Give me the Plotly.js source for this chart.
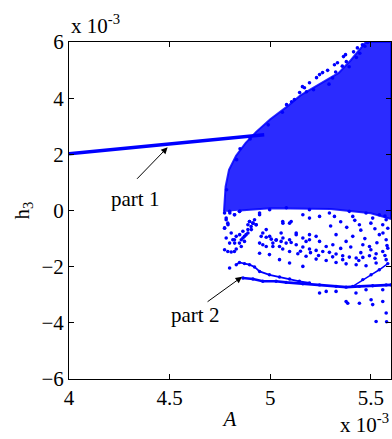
<!DOCTYPE html>
<html>
<head>
<meta charset="utf-8">
<script src="https://cdn.plot.ly/plotly-3.0.1.min.js"></script>
<style>html,body{margin:0;padding:0;background:#fff;}#chart{width:392px;height:439px;}</style>
</head>
<body>
<div id="chart"></div>
<script>
// Values in units of 1e-3 (A on x, h3 on y)
var part1X = [4.00, 4.50, 4.97];
var part1Y = [2.02, 2.37, 2.70];

// envelope of the dense chaotic band
var cloudX = [4.770, 4.778, 4.795, 4.830, 4.878, 4.930, 5.000, 5.080, 5.150, 5.250, 5.340, 5.400, 5.443, 5.475, 5.600, 5.600, 5.500, 5.300, 5.000, 4.850];
var cloudY = [-0.05, 0.85, 1.45, 1.95, 2.41, 2.80, 3.25, 3.68, 4.10, 4.52, 4.90, 5.35, 5.72, 6.00, 6.00, -0.30, -0.10, 0.05, 0.08, 0.00];

// outlying points along the upper edge of the band
var edgeX = [5.374, 5.364, 5.414, 5.433, 5.458, 5.483, 5.285, 5.260, 5.245, 5.230, 5.195, 5.170, 5.180, 5.146, 5.160, 5.319, 5.334, 5.106, 5.081, 4.833, 4.783,
  5.292, 5.310, 5.325, 5.358, 5.378, 5.392, 5.428, 5.445, 5.470, 5.215, 5.120, 5.060, 4.990, 4.900, 4.850];
var edgeY = [5.55, 5.48, 5.65, 5.79, 5.90, 5.98, 4.99, 4.91, 4.84, 4.73, 4.55, 4.37, 4.23, 4.20, 4.41, 5.19, 5.26, 3.87, 3.77, 1.81, 0.74,
  4.50, 4.72, 4.93, 5.14, 5.30, 5.12, 5.45, 5.60, 5.85, 4.30, 3.95, 3.50, 3.05, 2.55, 2.20];

// sparse points below the band
var sparseX = [4.773, 4.798, 4.822, 4.847, 4.781, 4.789, 4.773, 4.806, 4.781, 4.822, 4.798, 4.773, 4.789, 4.806, 4.822, 4.831,
  4.847, 4.864, 4.880, 4.889, 4.905, 4.914, 4.922, 4.897, 4.930, 4.872, 4.856,
  4.947, 5.062, 5.096, 5.162, 5.195, 5.245, 5.294, 5.319, 5.393, 5.410, 5.443, 5.476, 5.509, 5.542, 5.576, 5.559, 5.584,
  5.327, 5.377, 5.410, 5.460, 5.542, 5.576, 5.245, 5.195, 5.129, 5.054, 4.980,
  4.955, 4.980, 5.005, 5.029, 5.054, 5.079, 5.104, 5.129, 5.162, 5.195, 5.228, 5.261, 5.294, 5.327, 5.360, 5.393, 5.427, 5.460, 5.493, 5.526, 5.559, 5.584,
  4.963, 5.013, 5.062, 5.096, 5.137, 5.178, 5.228, 5.278, 5.327, 5.377, 5.427, 5.476, 5.526, 5.576,
  5.046, 5.096, 5.162, 4.996, 4.947, 5.311, 5.178, 5.278, 5.493,
  5.377, 5.385, 5.443, 5.501, 5.509, 5.559, 5.576, 5.526, 5.278, 5.245, 5.327, 5.476, 5.426, 5.559, 4.798, 5.578,
  4.799, 4.823, 4.781, 4.790, 4.773, 4.848, 4.947, 4.897, 4.914, 4.889, 4.930, 4.906, 4.864, 4.848, 4.831, 4.814, 4.823, 4.856, 4.872, 4.889,
  4.963, 4.997, 5.030, 5.063, 5.096, 5.129, 5.162, 5.195, 5.228, 5.063, 5.104, 4.947, 4.980, 5.013, 5.046, 4.997, 5.080, 5.195,
  5.35, 5.42, 5.50, 5.57, 5.45, 5.52, 5.38, 5.30, 5.56, 5.47, 5.53, 5.58, 5.40, 5.35, 5.50, 5.45, 5.57, 5.31, 5.36, 5.44, 5.52, 5.20, 5.15, 5.24];
var sparseY = [-0.09, -0.03, -0.15, -0.03, -0.27, -0.45, -0.63, -0.80, -0.98, -1.04, -1.16, -1.40, -1.46, -1.48, -1.46, -1.37,
  -1.16, -0.98, -0.86, -0.68, -0.57, -0.45, -0.33, -0.39, -0.51, -1.10, -1.28,
  -0.09, -0.39, -0.45, -0.15, -0.27, -0.21, -0.09, -0.21, -0.03, -0.21, -0.51, -0.09, -0.27, -0.15, -0.33, -0.51, -0.63,
  -0.86, -1.10, -0.92, -1.22, -0.86, -1.04, -1.10, -0.86, -0.80, -0.80, -0.68,
  -0.92, -0.95, -1.02, -1.06, -1.10, -1.16, -1.14, -1.22, -1.30, -1.37, -1.42, -1.46, -1.49, -1.55, -1.61, -1.66, -1.69, -1.67, -1.61, -1.54, -1.46, -1.34,
  -1.22, -1.28, -1.37, -1.46, -1.54, -1.63, -1.73, -1.78, -1.85, -1.90, -1.93, -1.97, -1.87, -1.75,
  -1.75, -1.87, -1.99, -1.57, -1.52, -1.22, -1.10, -1.28, -1.28,
  -3.24, -3.30, -3.30, -3.18, -3.35, -3.24, -3.65, -3.95, -2.88, -2.94, -2.88, -2.82, -2.94, -2.82, -2.05, -3.96,
  -0.09, -0.15, -0.33, -0.51, -0.62, -0.03, -0.15, -0.39, -0.45, -0.51, -0.51, -0.68, -0.74, -0.86, -0.92, -1.04, -1.16, -1.04, -0.92, -0.80,
  -0.80, -0.92, -1.04, -0.98, -1.04, -0.86, -0.98, -1.04, -0.92, -0.45, -0.39, -1.16, -1.28, -1.16, -1.28, 0.03, 0.10, 0.03,
  -0.40, -0.35, -0.45, -0.20, -0.70, -0.65, -0.60, -0.55, -0.80, -1.00, -1.15, -1.25, -1.30, -1.35, -1.40, -1.50, -1.60, -1.65, -1.75, -1.78, -1.70, -1.50, -1.45, -1.60];

// "part 2" branches
var lowX = [4.864, 4.914, 4.963, 5.029, 5.079, 5.162, 5.245, 5.327, 5.377, 5.443, 5.509, 5.576, 5.60];
var lowY = [-2.405, -2.44, -2.52, -2.52, -2.56, -2.61, -2.65, -2.70, -2.73, -2.70, -2.68, -2.65, -2.65];
var upX = [4.831, 4.847, 4.872, 4.897, 4.922, 4.947, 4.996, 5.046, 5.096, 5.145, 5.195];
var upY = [-1.93, -1.85, -1.89, -1.93, -2.01, -2.17, -2.29, -2.37, -2.44, -2.52, -2.58];
var riseX = [5.410, 5.460, 5.501, 5.542, 5.584];
var riseY = [-2.70, -2.46, -2.29, -2.11, -1.89];

var xTicks = [4, 4.5, 5, 5.5];
var xTickText = ['4', '4.5', '5', '5.5'];
var yTicks = [-6, -4, -2, 0, 2, 4, 6];

var blue = 'rgb(0,0,255)';
var FONT = 'Liberation Serif, Times New Roman, serif';
var FS = 21;

var traces = [
  {x: cloudX, y: cloudY, mode: 'lines', fill: 'toself', fillcolor: 'rgba(0,0,255,0.83)', line: {color: 'rgba(0,0,255,0.83)', width: 2}, hoverinfo: 'skip'},
  {x: part1X, y: part1Y, mode: 'lines', line: {color: blue, width: 3.5}},
  {x: edgeX, y: edgeY, mode: 'markers', marker: {color: blue, size: 3.6}},
  {x: sparseX, y: sparseY, mode: 'markers', marker: {color: blue, size: 3.6}},
  {x: lowX, y: lowY, mode: 'lines+markers', line: {color: blue, width: 2.6}, marker: {color: blue, size: 3.4}},
  {x: upX, y: upY, mode: 'lines+markers', line: {color: blue, width: 1.8}, marker: {color: blue, size: 3.4}},
  {x: riseX, y: riseY, mode: 'lines+markers', line: {color: blue, width: 1.5}, marker: {color: blue, size: 3.4}}
];

var layout = {
  width: 392, height: 439,
  margin: {l: 69, r: 1, t: 42, b: 60},
  showlegend: false,
  paper_bgcolor: '#fff', plot_bgcolor: '#fff',
  font: {family: FONT, size: FS, color: '#000'},
  xaxis: {
    range: [4, 5.6], tickvals: xTicks, ticktext: xTickText,
    ticks: 'inside', ticklen: 5, tickcolor: '#000', showline: true, linecolor: '#000', linewidth: 1,
    mirror: 'ticks', showgrid: false, zeroline: false,
    tickfont: {family: FONT, size: FS},
    title: {text: '<i>A</i>', font: {family: FONT, size: FS}, standoff: 2}
  },
  yaxis: {
    range: [-6, 6], tickvals: yTicks,
    ticks: 'inside', ticklen: 5, tickcolor: '#000', showline: true, linecolor: '#000', linewidth: 1,
    mirror: 'ticks', showgrid: false, zeroline: false,
    tickfont: {family: FONT, size: FS},
    title: {text: 'h<sub>3</sub>', font: {family: FONT, size: FS}, standoff: 6}
  },
  annotations: [
    {xref: 'paper', yref: 'paper', x: 0, y: 1, xanchor: 'left', yanchor: 'bottom', yshift: 2, showarrow: false,
     text: 'x 10<sup>-3</sup>', font: {family: FONT, size: FS}},
    {xref: 'paper', yref: 'paper', x: 1, y: 0, xanchor: 'right', yanchor: 'bottom', yshift: -60, showarrow: false,
     text: 'x 10<sup>-3</sup>', font: {family: FONT, size: FS}},
    {x: 4.49, y: 2.25, ax: -32, ay: 33, text: '', showarrow: true, arrowhead: 2, arrowsize: 1.3, arrowwidth: 1, arrowcolor: '#000'},
    {x: 4.86, y: -2.36, ax: -36, ay: 26, text: '', showarrow: true, arrowhead: 2, arrowsize: 1.3, arrowwidth: 1, arrowcolor: '#000'},
    {x: 4.326, y: 0.42, text: 'part 1', showarrow: false, font: {family: FONT, size: FS}},
    {x: 4.624, y: -3.72, text: 'part 2', showarrow: false, font: {family: FONT, size: FS}}
  ]
};

Plotly.newPlot('chart', traces, layout, {staticPlot: true, displayModeBar: false});
</script>
</body>
</html>
